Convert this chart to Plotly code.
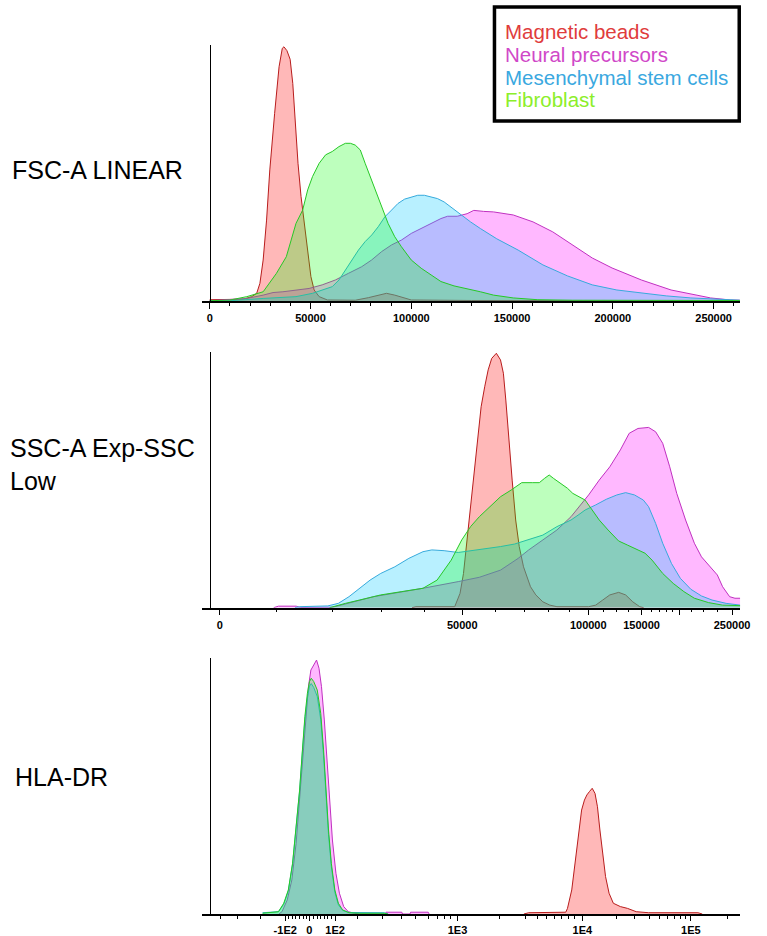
import plotly.graph_objects as go

W, H = 767, 936

# ---------------- categories / legend ----------------
categories = ["Magnetic beads", "Neural precursors", "Mesenchymal stem cells", "Fibroblast"]
line_colors = ["#b81c1c", "#c030c0", "#36aadc", "#26c826"]
fill_colors = ["rgba(255,0,0,0.28)", "rgba(255,0,255,0.28)", "rgba(0,200,255,0.28)", "rgba(0,255,0,0.26)"]
legend_text_colors = ["#e03c3c", "#d048c8", "#3aa8e0", "#8cee2a"]

panel_labels = ["FSC-A LINEAR", "SSC-A Exp-SSC<br>Low", "HLA-DR"]

# ---------------- Panel 1: FSC-A (linear scale values) ----------------
fsc_beads_x = [0, 8000, 16700, 20800, 23300, 24900, 26500, 28200, 29800, 32200, 34400, 36000, 36800, 38300,
               39900, 41200, 42500, 43800, 45300, 46900, 48600, 50200, 51800, 54300, 58400, 72200, 78700,
               83600, 87700, 91800, 95900, 100000, 130000, 263000]
fsc_beads_y = [0.5, 0.5, 0.7, 1.7, 3.0, 6.9, 16.0, 31.6, 51.2, 73.3, 91.5, 98.7, 99.3, 97.8,
               94.4, 85.0, 69.4, 53.8, 40.8, 30.3, 19.9, 9.5, 4.3, 1.7, 0.4, 0.3, 1.3,
               2.3, 3.0, 2.3, 1.3, 0.4, 0.2, 0.2]

fsc_neural_x = [0, 18400, 26500, 31400, 36300, 42800, 49300, 55800, 62300, 68800, 75400, 80300, 85300, 90200,
                95100, 100000, 104900, 109800, 114700, 118000, 122800, 127700, 131000, 135900, 140800, 150600,
                160400, 170200, 180000, 189800, 199600, 214200, 228900, 238700, 248500, 258300, 263000]
fsc_neural_y = [0.1, 1.0, 2.3, 3.3, 3.6, 4.3, 4.9, 6.3, 8.2, 10.8, 13.4, 16.0, 19.3, 21.9,
                23.8, 26.4, 28.3, 30.3, 32.2, 33.1, 33.1, 34.1, 35.4, 35.0, 34.8, 33.6,
                30.9, 27.0, 21.9, 16.8, 12.9, 8.2, 4.3, 2.7, 1.2, 0.4, 0.3]

fsc_mesen_x = [0, 10200, 26500, 42800, 51000, 60800, 64100, 67300, 70600, 73800, 77100, 80400, 83600, 86900,
               90200, 93400, 96700, 100000, 103200, 106500, 109800, 113000, 116300, 119600, 122800, 126100,
               129400, 134300, 139200, 142400, 153000, 165300, 177500, 189800, 202000, 214200, 226500,
               238700, 253400, 263000]
fsc_mesen_y = [0.0, 0.1, 1.0, 1.7, 3.0, 5.6, 8.2, 12.1, 16.0, 19.9, 23.2, 25.8, 29.0, 32.9,
               35.5, 38.1, 39.8, 40.7, 41.3, 41.3, 40.7, 40.0, 38.7, 36.7, 34.8, 32.8,
               30.9, 28.3, 26.0, 24.3, 19.9, 14.1, 9.8, 6.3, 4.3, 3.1, 2.0,
               1.2, 0.6, 0.3]

fsc_fibro_x = [0, 10200, 18400, 26500, 33100, 38000, 42800, 46100, 48600, 51000, 54300, 57500, 60800, 64100,
               67300, 69800, 72200, 74700, 77100, 79600, 82000, 85300, 88500, 91800, 95100, 100000, 104900,
               109800, 114700, 121200, 127700, 134300, 140800, 150600, 162800, 180000, 263000]
fsc_fibro_y = [0.1, 0.4, 1.7, 3.6, 10.8, 17.3, 30.3, 35.5, 43.4, 48.6, 53.8, 57.1, 58.4, 60.3,
               61.6, 61.6, 60.9, 59.0, 53.8, 48.6, 43.4, 36.9, 30.3, 25.1, 21.2, 16.0, 12.8,
               10.2, 7.6, 5.9, 4.9, 3.6, 2.3, 1.2, 0.5, 0.3, 0.2]

# ---------------- Panel 2: SSC-A (display channel 0-1000) ----------------
ssc_beads_x = [380, 387.2, 460.1, 470.1, 476.6, 483.2, 489.9, 496.6, 503.1, 509.7, 516.4, 522.9, 529.6, 538.3,
               546.1, 551.5, 556.1, 561.5, 568.0, 574.6, 581.3, 589.3, 595.7, 602.4, 612.4, 625.6, 638.8,
               652.1, 711.6, 724.9, 738.1, 751.4, 768.0, 781.1, 794.5, 807.6, 815]
ssc_beads_y = [0, 0.4, 0.4, 5.6, 13.4, 26.5, 42.1, 55.1, 68.2, 78.6, 86.4, 93.0, 97.5, 99.5,
               96.9, 91.7, 81.2, 65.6, 49.9, 34.3, 23.9, 16.0, 12.1, 8.2, 5.0, 2.3, 1.0,
               0.4, 0.4, 1.0, 3.0, 5.0, 6.0, 5.0, 2.3, 0.4, 0]

ssc_neural_x = [120, 129.1, 162.2, 170, 230, 235.0, 307.8, 347.6, 400.5, 466.7, 506.4, 546.1, 579.3, 599.1,
                625.6, 652.1, 678.6, 698.4, 711.6, 731.5, 751.4, 771.2, 787.8, 804.3, 824.2, 837.4, 850.7,
                863.9, 877.1, 893.7, 910.2, 923.5, 940.0, 953.3, 963.2, 976.4, 986.4, 996.3]
ssc_neural_y = [0, 0.6, 0.6, 0.1, 0.2, 0.4, 4.3, 5.6, 7.6, 10.2, 11.9, 14.7, 19.3, 22.6,
                26.5, 30.4, 35.6, 40.8, 44.1, 49.9, 55.1, 61.7, 68.2, 70.1, 70.5, 68.8, 64.3,
                55.1, 44.7, 34.3, 25.2, 19.9, 16.0, 12.8, 8.2, 4.3, 3.7, 3.7]

ssc_mesen_x = [160, 168.8, 221.8, 241.6, 261.5, 281.4, 301.2, 321.1, 347.6, 374.0, 400.5, 417.1, 440.2, 466.7,
               493.2, 519.7, 546.1, 572.6, 599.1, 625.6, 652.1, 678.6, 691.8, 705.0, 724.9, 744.8, 764.6,
               781.1, 797.7, 814.3, 824.2, 837.4, 850.7, 867.2, 883.8, 903.6, 923.5, 943.3, 969.8, 996.3]
ssc_mesen_y = [0, 0.4, 0.7, 1.7, 4.3, 7.6, 10.8, 13.4, 16.0, 19.3, 21.9, 22.6, 22.3, 21.6,
               22.3, 23.2, 23.9, 24.9, 26.5, 28.4, 31.7, 34.3, 36.2, 38.2, 40.2, 42.4, 44.1,
               45.0, 44.1, 42.1, 39.5, 33.0, 25.2, 17.3, 11.5, 7.2, 4.6, 3.0, 1.7, 1.0]

ssc_fibro_x = [225, 231.7, 254.9, 281.4, 321.1, 360.8, 400.5, 427.0, 453.5, 473.3, 489.9, 506.4, 526.3, 546.1,
               566.0, 585.9, 605.7, 619.0, 628.9, 637.5, 645.5, 658.7, 671.9, 681.9, 695.1, 705.0, 718.3,
               731.5, 748.1, 767.9, 784.5, 804.3, 817.6, 830.8, 850.7, 870.5, 890.4, 910.2, 936.7, 963.2,
               989.7, 996.3]
ssc_fibro_y = [0, 0.4, 1.7, 3.0, 5.0, 6.3, 7.6, 10.8, 18.6, 26.5, 31.7, 35.6, 39.5, 43.4,
               46.0, 48.9, 48.9, 48.9, 50.6, 51.9, 50.6, 48.6, 46.7, 44.7, 43.4, 42.1, 38.2,
               34.3, 30.4, 26.1, 24.5, 22.6, 21.3, 18.6, 13.4, 9.5, 6.3, 3.7, 2.0, 1.0,
               0.7, 0.8]

# ---------------- Panel 3: HLA-DR (display channel 0-1000) ----------------
hla_beads_x = [590, 599.1, 668.6, 671.9, 679.9, 686.5, 691.8, 698.4, 703.7, 708.3, 713.0, 718.3, 723.6, 728.2,
               732.8, 738.1, 743.4, 750.0, 758.0, 771.2, 784.5, 801.0, 824.2, 916.9, 925]
hla_beads_y = [0, 0.5, 0.7, 2.2, 9.4, 19.8, 30.2, 40.6, 44.5, 46.5, 47.8, 49.1, 47.1, 41.9,
               32.8, 22.4, 14.6, 8.1, 4.2, 2.9, 2.2, 0.9, 0.5, 0.5, 0]

hla_neural_x = [130, 135.7, 145.6, 154.2, 162.2, 168.8, 175.4, 180.7, 185.4, 190.0, 195.3, 200.6, 205.2, 209.9,
                215.2, 220.4, 225.1, 230.4, 237.0, 243.6, 251.6, 260.2, 271.4, 280, 330, 331.0, 360.8, 362,
                376, 377.3, 410.4, 412]
hla_neural_y = [0, 0.9, 5.5, 13.3, 27.6, 44.5, 61.5, 77.1, 88.8, 95.3, 97.3, 99.2, 96.0, 88.8,
                75.8, 60.2, 44.5, 28.9, 15.9, 8.1, 2.9, 0.9, 0.3, 0, 0, 0.7, 0.7, 0,
                0, 0.7, 0.7, 0]

hla_mesen_x = [99.3, 129.1, 139.0, 147.6, 155.6, 162.2, 168.8, 174.1, 178.7, 183.4, 187.4, 190.7, 195.3, 201.9,
               208.5, 213.8, 218.5, 223.1, 228.4, 235.0, 241.6, 249.6, 261.5, 281.4, 327.7, 335]
hla_mesen_y = [0.5, 0.9, 3.8, 9.0, 19.5, 32.5, 48.0, 63.5, 76.0, 84.5, 89.0, 90.0, 88.5, 85.0,
               76.0, 62.0, 46.5, 31.0, 18.5, 8.5, 3.6, 1.4, 0.6, 0.5, 0.5, 0]

hla_fibro_x = [99.3, 129.1, 139.0, 147.6, 155.6, 162.2, 168.8, 174.1, 178.7, 183.4, 187.4, 190.7, 195.3, 201.9,
               208.5, 213.8, 218.5, 223.1, 228.4, 235.0, 241.6, 249.6, 261.5, 281.4, 327.7, 335]
hla_fibro_y = [0.3, 0.9, 4.2, 9.4, 19.8, 32.8, 48.4, 64.1, 77.1, 86.2, 90.8, 92.1, 90.8, 87.5,
               78.4, 64.1, 48.4, 32.8, 19.8, 9.4, 4.2, 1.6, 0.5, 0.3, 0.3, 0]

# ---------------- tick definitions ----------------
ssc_tick_vals = [18.9, 474.2, 710.9, 811.0, 882.0, 980.9]
ssc_tick_text = ["0", "50000", "100000", "150000", "", "250000"]
ssc_minor_vals = [125.1, 231.3, 322.9, 403.2, 536.1, 590.4, 636.8, 675.1, 739.9, 764.6, 786.3,
                  829.5, 843.8, 857.3, 869.7, 904.9, 927.7, 953.1]

hla_tick_vals = [141.8, 186.8, 235.4, 465.3, 699.7, 903.6]
hla_tick_text = ["-1E2", "0", "1E2", "1E3", "1E4", "1E5"]
hla_minor_vals = [19.5, 52.8, 95.5, 148.5, 155.2, 161.9, 168.5, 175.2, 181.9, 195.3, 202.0, 208.7, 215.3,
                  222.0, 228.7, 278.0, 324.4, 359.4, 385.9, 410.6, 427.3, 440.3, 452.1, 544.0, 592.2,
                  616.3, 633.0, 647.8, 660.8, 673.8, 684.9, 764.6, 798.5, 826.3, 844.9, 860.4, 872.7,
                  883.8, 894.4, 971.7]

panels = [
    [(fsc_beads_x, fsc_beads_y), (fsc_neural_x, fsc_neural_y), (fsc_mesen_x, fsc_mesen_y), (fsc_fibro_x, fsc_fibro_y)],
    [(ssc_beads_x, ssc_beads_y), (ssc_neural_x, ssc_neural_y), (ssc_mesen_x, ssc_mesen_y), (ssc_fibro_x, ssc_fibro_y)],
    [(hla_beads_x, hla_beads_y), (hla_neural_x, hla_neural_y), (hla_mesen_x, hla_mesen_y), (hla_fibro_x, hla_fibro_y)],
]

fig = go.Figure()
axis_ids = [("x", "y"), ("x2", "y2"), ("x3", "y3")]
for p, series in enumerate(panels):
    xa, ya = axis_ids[p]
    for i, (xs, ys) in enumerate(series):
        fig.add_trace(go.Scatter(
            x=xs, y=ys, xaxis=xa, yaxis=ya, mode="lines",
            line=dict(color=line_colors[i], width=1),
            fill="tozeroy", fillcolor=fill_colors[i],
            showlegend=False, hoverinfo="skip", name=categories[i]))

def px_x(v):
    return v / W

def px_y(v):
    return 1 - v / H

FONT = "Liberation Sans, Arial, sans-serif"
x_dom = [px_x(205), px_x(750)]
y_doms = [[px_y(301), px_y(45)], [px_y(607.7), px_y(352)], [px_y(914), px_y(658)]]
yaxis_pos = px_x(212.5)

tickfont = dict(family=FONT, size=11, color="black", weight="bold")
base_x = dict(domain=x_dom, showgrid=False, zeroline=False, showline=True, linecolor="black",
              linewidth=1.5, ticks="outside", ticklen=6, tickwidth=1, tickcolor="black",
              tickfont=tickfont, fixedrange=True)

layout = dict(
    width=W, height=H, margin=dict(l=0, r=0, t=0, b=0), autosize=False,
    paper_bgcolor="white", plot_bgcolor="white", showlegend=False, hovermode=False,
)

layout["xaxis"] = dict(base_x, anchor="y", range=[-3673, 263200], tickmode="linear", tick0=0, dtick=50000,
                       tickformat="d",
                       minor=dict(dtick=10000, tick0=0, ticks="outside", ticklen=3, tickcolor="black"))
layout["xaxis2"] = dict(base_x, anchor="y2", range=[-13.9, 996.3], tickmode="array",
                        tickvals=ssc_tick_vals, ticktext=ssc_tick_text,
                        minor=dict(tickmode="array", tickvals=ssc_minor_vals, ticks="outside",
                                   ticklen=3, tickcolor="black"))
layout["xaxis3"] = dict(base_x, anchor="y3", range=[-13.9, 996.3], tickmode="array",
                        tickvals=hla_tick_vals, ticktext=hla_tick_text, ticklen=5,
                        minor=dict(tickmode="array", tickvals=hla_minor_vals, ticks="outside",
                                   ticklen=3, tickcolor="black"))
for k, name in enumerate(["yaxis", "yaxis2", "yaxis3"]):
    layout[name] = dict(domain=y_doms[k], range=[0, 100], anchor="free", position=yaxis_pos,
                        showline=True, linecolor="black", linewidth=1, showgrid=False,
                        zeroline=False, showticklabels=False, ticks="", fixedrange=True)

fig.update_layout(**layout)

# panel labels
label_pos = [(10, 170), (8, 464), (13, 777)]
for text, (lx, ly) in zip(panel_labels, label_pos):
    fig.add_annotation(text=text, xref="paper", yref="paper", x=px_x(lx), y=px_y(ly),
                       xanchor="left", yanchor="middle", align="left", showarrow=False,
                       font=dict(family=FONT, size=25, color="black"))

# legend box
fig.add_shape(type="rect", xref="paper", yref="paper", x0=px_x(501), x1=px_x(749),
              y0=px_y(121), y1=px_y(7), line=dict(color="black", width=3.5), fillcolor="white")
legend_y = [32, 54, 77, 100]
for name, col, ly in zip(categories, legend_text_colors, legend_y):
    fig.add_annotation(text=name, xref="paper", yref="paper", x=px_x(510), y=px_y(ly),
                       xanchor="left", yanchor="middle", showarrow=False,
                       font=dict(family=FONT, size=20.5, color=col))

fig.write_html(
    "out.html",
    config={"displayModeBar": False, "responsive": False},
    post_script=("document.documentElement.style.margin='0';document.documentElement.style.overflow='hidden';"
                 "document.body.style.margin='0';document.body.style.padding='0';"
                 "document.body.style.overflow='hidden';"),
)
